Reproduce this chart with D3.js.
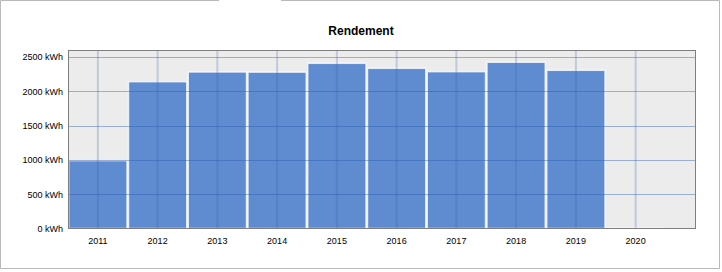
<!DOCTYPE html>
<html>
<head>
<meta charset="utf-8">
<script src="https://cdn.jsdelivr.net/npm/d3@7"></script>
<style>
  html, body { margin: 0; padding: 0; background: #fff; }
  svg { display: block; }
  text { font-family: "Liberation Sans", Arial, sans-serif; fill: #000; }
</style>
</head>
<body>
<div id="chart"></div>
<script>
// yearly yield (kWh)
var years = ["2011", "2012", "2013", "2014", "2015", "2016", "2017", "2018", "2019", "2020"];
var yieldKwh = [990, 2140, 2281, 2279, 2408, 2335, 2286, 2423, 2306, 6];
var yTicks = [0, 500, 1000, 1500, 2000, 2500];
var yMax = 2602;

var W = 722, H = 272;
var plot = { left: 68, top: 50, right: 696, bottom: 228.5 };
var step = 59.75;

var svg = d3.select("#chart").append("svg")
  .attr("width", W)
  .attr("height", H);

// outer frame with the gap at the top
svg.append("path")
  .attr("d", "M219,0.5 H0.5 V268.5 H719.5 V0.5 H281")
  .attr("fill", "none")
  .attr("stroke", "#b9b9b9")
  .attr("stroke-width", 1);

svg.append("text")
  .attr("x", 361)
  .attr("y", 35)
  .attr("text-anchor", "middle")
  .attr("font-size", "12px")
  .attr("font-weight", "bold")
  .text("Rendement");

var x = d3.scaleBand()
  .domain(years)
  .range([plot.left, plot.left + step * years.length]);

var y = d3.scaleLinear()
  .domain([0, yMax])
  .range([plot.bottom, plot.top]);

// plot background
svg.append("rect")
  .attr("x", plot.left)
  .attr("y", plot.top)
  .attr("width", plot.right - plot.left)
  .attr("height", plot.bottom - plot.top)
  .attr("fill", "#ececec");

// bars
svg.append("g")
  .selectAll("rect")
  .data(years)
  .enter()
  .append("rect")
  .attr("x", function (d) { return x(d) + 0.75; })
  .attr("width", x.bandwidth() - 1.5)
  .attr("y", function (d, i) { return y(yieldKwh[i]); })
  .attr("height", function (d, i) { return plot.bottom - y(yieldKwh[i]); })
  .attr("fill", "#5f8bd0")
  .attr("stroke", "rgba(255,255,255,0.75)")
  .attr("stroke-width", 1.5);

// vertical grid at category centers
svg.append("g")
  .selectAll("line")
  .data(years)
  .enter()
  .append("line")
  .attr("x1", function (d) { return x(d) + x.bandwidth() / 2; })
  .attr("x2", function (d) { return x(d) + x.bandwidth() / 2; })
  .attr("y1", plot.top)
  .attr("y2", plot.bottom)
  .attr("stroke", "rgba(60,100,170,0.25)")
  .attr("stroke-width", 2);

// horizontal grid
svg.append("g")
  .selectAll("line")
  .data(yTicks.slice(1))
  .enter()
  .append("line")
  .attr("x1", plot.left)
  .attr("x2", plot.right)
  .attr("y1", function (d) { return Math.round(y(d)) + 0.5; })
  .attr("y2", function (d) { return Math.round(y(d)) + 0.5; })
  .attr("stroke", "rgba(40,90,170,0.42)")
  .attr("stroke-width", 1);

// plot border
svg.append("rect")
  .attr("x", plot.left + 0.5)
  .attr("y", plot.top + 0.5)
  .attr("width", plot.right - plot.left - 1)
  .attr("height", plot.bottom - plot.top - 0.5)
  .attr("fill", "none")
  .attr("stroke", "#7f7f7f")
  .attr("stroke-width", 1);

// y axis labels
var yAxis = d3.axisLeft(y)
  .tickValues(yTicks)
  .tickSize(0)
  .tickPadding(5)
  .tickFormat(function (d) { return d + " kWh"; });

var gy = svg.append("g")
  .attr("transform", "translate(" + plot.left + ",0)")
  .call(yAxis);
gy.select(".domain").remove();
gy.selectAll("text")
  .attr("font-size", "9px")
  .attr("font-family", "Liberation Sans, Arial, sans-serif")
  .attr("fill", "#000");

// x axis labels
var xAxis = d3.axisBottom(x).tickSize(0).tickPadding(9);
var gx = svg.append("g")
  .attr("transform", "translate(0," + plot.bottom + ")")
  .call(xAxis);
gx.select(".domain").remove();
gx.selectAll("text")
  .attr("font-size", "9px")
  .attr("font-family", "Liberation Sans, Arial, sans-serif")
  .attr("fill", "#000");
</script>
</body>
</html>
